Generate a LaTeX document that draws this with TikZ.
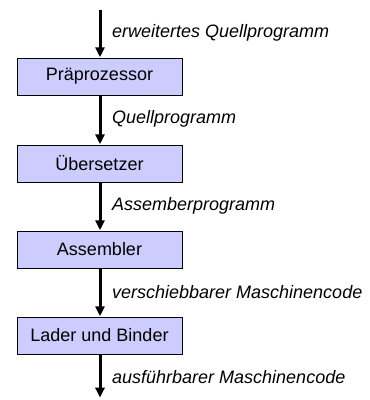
\documentclass[tikz,border=0pt]{standalone}
\usepackage{fontspec}
\setmainfont{Liberation Sans}
\usetikzlibrary{arrows.meta}
\begin{document}
\begin{tikzpicture}[x=1pt,y=-1pt,
  stage/.style={draw=black, line width=0.9pt, fill={rgb,255:red,204;green,204;blue,255},
    minimum width=165pt, minimum height=37pt, inner sep=0pt,
    font=\fontsize{18}{21}\selectfont},
  flow/.style={line width=3pt, -{Triangle[length=10pt,width=9pt]}, shorten >=0.3pt},
  lbl/.style={anchor=west, inner sep=0pt, font=\fontsize{18}{21}\selectfont\itshape}]
  \useasboundingbox (0,0) rectangle (370,400);
  \node[stage] (pre) at (99.5,76.5) {Präprozessor};
  \node[stage] (ueb) at (99.5,163.5) {Übersetzer};
  \node[stage] (asm) at (99.5,249.5) {Assembler};
  \node[stage] (lad) at (99.5,335.5) {Lader und Binder};
  \coordinate (in) at (100,10);
  \coordinate (out) at (100,398);
  \draw[flow] (in) -- (in |- pre.north);
  \draw[flow] (pre.south -| in) -- (ueb.north -| in);
  \draw[flow] (ueb.south -| in) -- (asm.north -| in);
  \draw[flow] (asm.south -| in) -- (lad.north -| in);
  \draw[flow] (lad.south -| in) -- (out);
  \node[lbl] at (112,33) {erweitertes Quellprogramm};
  \node[lbl] at (112,119) {Quellprogramm};
  \node[lbl] at (112,206) {Assemberprogramm};
  \node[lbl] at (112,292) {verschiebbarer Maschinencode};
  \node[lbl] at (112,377) {ausführbarer Maschinencode};
\end{tikzpicture}
\end{document}
